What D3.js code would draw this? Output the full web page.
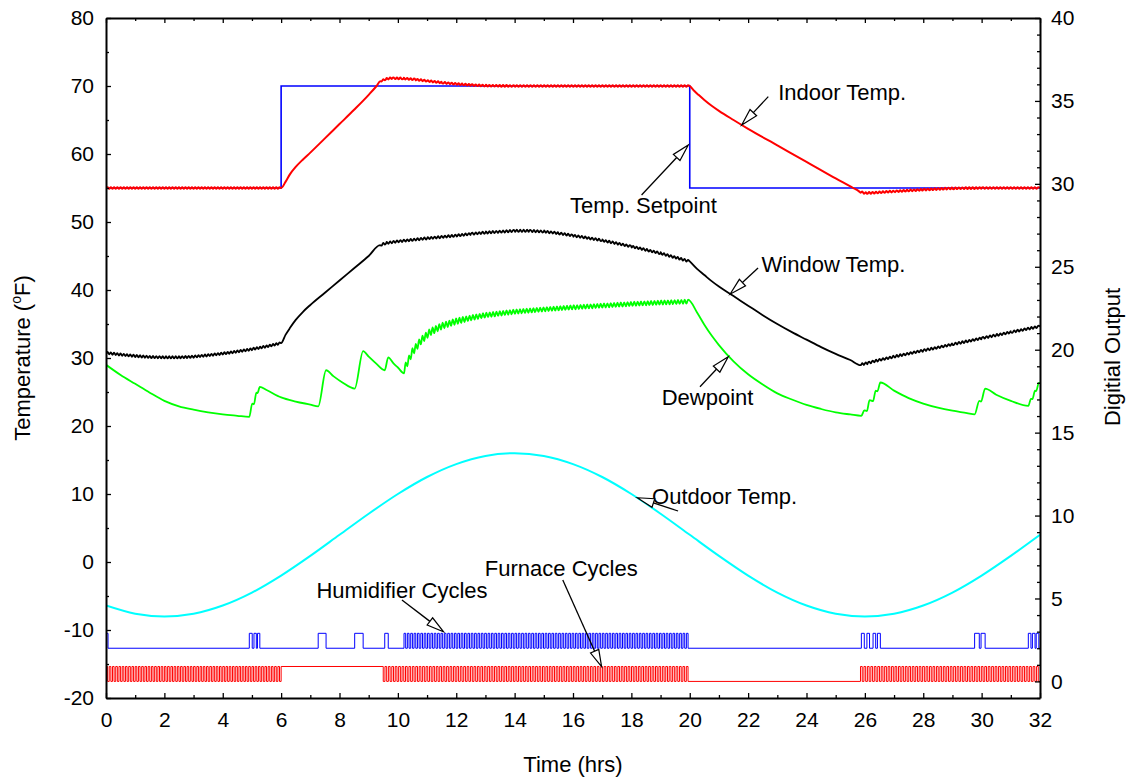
<!DOCTYPE html>
<html>
<head>
<meta charset="utf-8">
<script src="https://cdn.jsdelivr.net/npm/d3@7"></script>
<style>
  html, body { margin: 0; padding: 0; background: #fff; }
  svg text { font-family: "Liberation Sans", Arial, sans-serif; fill: #000; }
</style>
</head>
<body>
<svg id="chart" width="1134" height="780"></svg>
<script>
// ---------------- data (hours, °F / digital level) ----------------
const outdoorHours = [0,1,2,3,4,5,6,7,8,9,10,11,12,13,14,15,16,17,18,19,20,21,22,23,24,25,26,27,28,29,30,31,32];
const outdoorTemp  = [-6.4,-7.6,-8,-7.6,-6.4,-4.5,-2,0.9,4,7.1,10,12.5,14.4,15.6,16,15.6,14.4,12.5,10,7.1,4,0.9,-2,-4.5,-6.4,-7.6,-8,-7.6,-6.4,-4.5,-2,0.9,4];

const setpointHours = [0, 6, 20, 32];
const setpointTemp  = [55, 70, 55, 55];

const indoorHours = [0,6,6.15,6.3,6.5,6.75,7,7.5,8,8.5,9,9.27,9.4,9.6,9.8,10.2,10.6,11,11.5,12,12.5,13,14,20,20.15,20.3,20.5,20.75,21,21.5,22,23,24,25,25.6,25.8,26,26.3,27,28,29,30,32];
const indoorTemp  = [55,55,55.9,57,58.1,59.2,60.2,62.3,64.4,66.5,68.7,70,70.7,71.05,71.15,71.1,70.95,70.75,70.5,70.3,70.15,70.05,70,70,69.3,68.7,67.95,67.1,66.35,65,63.7,61.27,58.85,56.4,55,54.5,54.25,54.3,54.5,54.75,54.95,55,55];

const windowHours = [0,0.5,1,1.5,2,2.5,3,3.5,4,4.5,5,5.5,6,6.15,6.3,6.5,6.75,7,7.5,8,8.5,9,9.39,9.6,10,11,12,12.5,13,14,14.5,15,15.5,16,17,18,19,20,20.25,20.5,20.75,21,21.5,22,22.5,23,23.5,24,24.5,25,25.5,25.88,26.1,26.3,27,28,29,30,31,32];
const windowTemp  = [30.75,30.5,30.3,30.15,30.1,30.1,30.2,30.4,30.65,30.95,31.3,31.7,32.2,33.4,34.4,35.6,36.8,37.8,39.6,41.4,43.2,45,46.6,46.9,47.15,47.6,48,48.25,48.45,48.7,48.7,48.6,48.35,48,47.3,46.4,45.4,44.2,43.1,42.2,41.3,40.5,39.1,37.7,36.3,35,33.8,32.7,31.6,30.6,29.7,29.05,29.25,29.5,30.2,31.1,32,32.9,33.8,34.65];

// dewpoint outside the continuous humidifier run
const dewHours = [0,0.5,1,1.5,2,2.5,3,3.5,4,4.5,4.91,5.01,5.07,5.15,5.19,5.27,5.5,6,6.5,7,7.27,7.54,7.8,8.1,8.52,8.81,9,9.25,9.55,9.67,9.85,10,
                  20.25,20.5,20.75,21,21.5,22,22.5,23,23.5,24,24.5,25,25.5,25.88,25.98,26.07,26.16,26.28,26.37,26.43,26.53,27,27.5,28,28.5,29,29.5,29.76,29.92,29.98,30.12,30.5,31,31.6,31.69,31.74,31.83,31.87,31.96,32];
const dewTemp  = [29,27.5,26.2,24.9,23.7,22.9,22.4,22,21.7,21.5,21.35,23.3,23.2,24.9,24.85,25.75,25.3,24.2,23.6,23.15,22.9,28.2,27.3,26.4,25.5,31,30.2,29.2,28.2,30.1,29.2,28.6,
                  36.7,34.9,33.3,31.9,29.5,27.6,26.1,24.8,23.9,23.1,22.5,22,21.7,21.5,22.3,22.2,23.8,23.65,25.2,25.1,26.4,25.2,24.1,23.3,22.7,22.25,21.9,21.7,23.7,23.6,25.5,24.6,23.7,22.95,24,23.95,25.2,25.15,26.35,26.3];
// dewpoint sawtooth band during the continuous humidifier run
const dewBandHours = [10.21,10.5,10.8,11.1,11.5,12,12.5,13,14,15,16,17,18,19,20];
const dewBandMid   = [28.3,30.9,32.6,33.8,34.7,35.4,35.9,36.3,36.8,37.15,37.45,37.7,37.95,38.15,38.3];
const dewBandAmp   = [0.55,0.55,0.52,0.5,0.46,0.42,0.38,0.35,0.32,0.3,0.3,0.3,0.3,0.3,0.3];

// furnace: runs of on/off cycling (start, end, number of cycles, on fraction)
const furnaceStart  = [0, 6, 9.44, 25.85];
const furnaceEnd    = [6, 9.44, 20, 32];
const furnaceCycles = [54, 1, 90, 52];
const furnaceDuty   = [0.5, 1, 0.5, 0.5];
const furnaceLevels = [0, 0.9];

// humidifier: single pulses plus one continuous cycling run
const humidOn  = [0, 4.91, 5.07, 5.19, 7.27, 8.52, 9.55, 25.88, 26.07, 26.28, 26.43, 29.76, 29.98, 31.6, 31.74, 31.87];
const humidOff = [0.07, 5.01, 5.15, 5.27, 7.54, 8.81, 9.67, 25.98, 26.16, 26.37, 26.53, 29.92, 30.12, 31.69, 31.83, 31.96];
const humidRunStart  = [10.21];
const humidRunEnd    = [20];
const humidRunCycles = [85];
const humidRunDuty   = [0.5];
const humidLevels = [2, 2.9];

// ripple amplitude (°F) caused by furnace cycling
const indoorRipple = 0.12;
const windowRipple = 0.16;

// axis ticks
const xTicks = d3.range(0, 33, 2);
const xMinor = d3.range(1, 32, 2);
const yTicks = [-20,-10,0,10,20,30,40,50,60,70,80];
const yMinor = [-15,-5,5,15,25,35,45,55,65,75];
const rTicks = [0,5,10,15,20,25,30,35,40];
const rMinor = d3.range(-1, 40).filter(v => v % 5 !== 0);

// annotations: label anchor, arrow start, arrow tip (hours, °F)
const notes = [
  { text: "Indoor Temp.",      tx: 23.03, ty: 67.94,  sx: 22.69, sy: 68.43,  ex: 21.78, ey: 64.26 },
  { text: "Temp. Setpoint",    tx: 15.90, ty: 51.28,  sx: 18.35, sy: 53.97,  ex: 19.95, ey: 61.32 },
  { text: "Window Temp.",      tx: 22.46, ty: 42.69,  sx: 22.34, sy: 43.24,  ex: 21.38, ey: 39.38 },
  { text: "Dewpoint",          tx: 19.04, ty: 23.09,  sx: 20.35, sy: 25.78,  ex: 21.32, ey: 30.19 },
  { text: "Outdoor Temp.",     tx: 18.71, ty: 8.53,   sx: 19.60, sy: 7.50,   ex: 18.20, ey: 9.45 },
  { text: "Humidifier Cycles", tx: 7.21,  ty: -5.25,  sx: 10.14, sy: -5.59,  ex: 11.56, ey: -10.25 },
  { text: "Furnace Cycles",    tx: 12.98, ty: -2.06,  sx: 15.65, sy: -2.65,  ex: 16.98, ey: -15.40 }
];

// ---------------- layout ----------------
const svg = d3.select("#chart");
const x  = d3.scaleLinear().domain([0, 32]).range([106, 1040]);
const y  = d3.scaleLinear().domain([-20, 80]).range([698, 18]);
const yR = d3.scaleLinear().domain([-1, 40]).range([698, 18]);

svg.append("defs").append("clipPath").attr("id", "plot")
  .append("rect").attr("x", 106).attr("y", 18).attr("width", 934).attr("height", 680);

// ---------------- helpers ----------------
function runPulses(starts, ends, cycles, duty) {
  const out = [];
  starts.forEach((s, i) => {
    const p = (ends[i] - s) / cycles[i];
    for (let k = 0; k < cycles[i]; k++) out.push([s + k * p, s + k * p + duty[i] * p]);
  });
  return out;
}
function mergeSort(pts) {
  pts.sort((a, b) => a[0] - b[0] || (b[2] || 0) - (a[2] || 0));
  const out = [];
  pts.forEach(p => {
    const last = out[out.length - 1];
    if (last && Math.abs(last[0] - p[0]) < 1e-6) return;
    out.push(p);
  });
  return out;
}
// base curve with a small sawtooth wherever the driving device cycles
function rippled(hours, temps, pulses, amp) {
  const base = d3.scaleLinear().domain(hours).range(temps);
  const pts = hours.map((h, i) => [h, temps[i], 0]);
  pulses.forEach(([a, b]) => {
    if (b - a > 1) return;
    pts.push([a, base(a) - amp, 1]);
    pts.push([b, base(b) + amp, 1]);
  });
  return mergeSort(pts);
}
function stepPoints(pulses, levels) {
  const pts = [];
  const [lo, hi] = levels;
  let prevOff = null;
  pulses.forEach(([a, b]) => {
    if (prevOff !== null && Math.abs(prevOff - a) < 1e-6) pts.pop();
    else pts.push([a, hi]);
    pts.push([b, lo]);
    prevOff = b;
  });
  if (pulses[0][0] > 0) pts.unshift([0, lo]);
  const last = pts[pts.length - 1];
  if (last[0] < 32) pts.push([32, last[1]]);
  return pts;
}

// ---------------- derived marks ----------------
const furnacePulses = runPulses(furnaceStart, furnaceEnd, furnaceCycles, furnaceDuty);
const humidPulses = humidOn.map((a, i) => [a, humidOff[i]])
  .concat(runPulses(humidRunStart, humidRunEnd, humidRunCycles, humidRunDuty))
  .sort((a, b) => a[0] - b[0]);

const indoorPts = rippled(indoorHours, indoorTemp, furnacePulses, indoorRipple);
const windowPts = rippled(windowHours, windowTemp, furnacePulses, windowRipple);

const bandMid = d3.scaleLinear().domain(dewBandHours).range(dewBandMid);
const bandAmp = d3.scaleLinear().domain(dewBandHours).range(dewBandAmp);
const dewPts = dewHours.map((h, i) => [h, dewTemp[i]]);
humidPulses.filter(([a, b]) => a >= humidRunStart[0] - 1e-6 && b <= humidRunEnd[0] + 1e-6)
  .forEach(([a, b]) => {
    dewPts.push([a, bandMid(a) - bandAmp(a)]);
    dewPts.push([b, bandMid(b) + bandAmp(b)]);
  });
const dewSorted = mergeSort(dewPts);

const outdoorPts  = outdoorHours.map((h, i) => [h, outdoorTemp[i]]);
const setpointPts = setpointHours.map((h, i) => [h, setpointTemp[i]]);

// ---------------- drawing ----------------
const plot = svg.append("g").attr("clip-path", "url(#plot)");
const lineT = d3.line().x(d => x(d[0])).y(d => y(d[1])).curve(d3.curveMonotoneX);
const stepT = d3.line().x(d => x(d[0])).y(d => y(d[1])).curve(d3.curveStepAfter);
const stepR = d3.line().x(d => x(d[0])).y(d => yR(d[1])).curve(d3.curveStepAfter);

function draw(gen, data, color, width) {
  plot.append("path").datum(data).attr("d", gen)
    .attr("fill", "none").attr("stroke", color).attr("stroke-width", width)
    .attr("stroke-linejoin", "miter").attr("stroke-linecap", "butt");
}

draw(lineT, outdoorPts, "#00ffff", 2);
draw(stepR, stepPoints(furnacePulses, furnaceLevels), "#ff0000", 1);
draw(stepR, stepPoints(humidPulses, humidLevels), "#0000ff", 1);
draw(lineT, dewSorted, "#00ff00", 1.8);
draw(lineT, windowPts, "#000000", 1.8);
draw(stepT, setpointPts, "#0000ff", 1.6);
draw(lineT, indoorPts, "#ff0000", 2);

// ---------------- axes ----------------
const FS = "21px";
const plain = d => String(d);
const blank = () => "";
function styleAxis(g, showDomain) {
  g.attr("font-family", null).attr("font-size", null);
  g.selectAll("text").attr("font-size", FS).attr("fill", "#000");
  g.selectAll(".tick line").attr("stroke", "#000").attr("stroke-width", 1.3);
  if (showDomain) g.select(".domain").attr("stroke", "#000").attr("stroke-width", 2);
  else g.select(".domain").remove();
}
function addAxis(axis, tx, ty, showDomain) {
  const g = svg.append("g").attr("transform", `translate(${tx},${ty})`).call(axis);
  styleAxis(g, showDomain);
  return g;
}

addAxis(d3.axisBottom(x).tickValues(xMinor).tickFormat(blank).tickSize(-3).tickSizeOuter(0), 0, 698, false);
addAxis(d3.axisBottom(x).tickValues(xTicks).tickFormat(plain).tickSize(-5).tickSizeOuter(0).tickPadding(14), 0, 698, true);
addAxis(d3.axisTop(x).tickValues(xMinor).tickFormat(blank).tickSize(-3).tickSizeOuter(0), 0, 18, false);
addAxis(d3.axisTop(x).tickValues(xTicks).tickFormat(blank).tickSize(-5).tickSizeOuter(0), 0, 18, true);
addAxis(d3.axisLeft(y).tickValues(yMinor).tickFormat(blank).tickSize(-3).tickSizeOuter(0), 106, 0, false);
addAxis(d3.axisLeft(y).tickValues(yTicks).tickFormat(plain).tickSize(-5).tickSizeOuter(0).tickPadding(12), 106, 0, true);
addAxis(d3.axisRight(yR).tickValues(rMinor).tickFormat(blank).tickSize(-3).tickSizeOuter(0), 1040, 0, false);
addAxis(d3.axisRight(yR).tickValues(rTicks).tickFormat(plain).tickSize(-5).tickSizeOuter(0).tickPadding(11), 1040, 0, true);

// ---------------- titles ----------------
svg.append("text").attr("x", 573).attr("y", 772).attr("text-anchor", "middle")
  .attr("font-size", "22px").text("Time (hrs)");

const yl = svg.append("text").attr("transform", "translate(30,358) rotate(-90)")
  .attr("text-anchor", "middle").attr("font-size", "22px");
yl.append("tspan").text("Temperature (");
yl.append("tspan").attr("font-size", "14px").attr("dy", "-9").text("o");
yl.append("tspan").attr("dy", "9").text("F)");

svg.append("text").attr("transform", "translate(1120,357) rotate(-90)")
  .attr("text-anchor", "middle").attr("font-size", "22px").text("Digitial Output");

// ---------------- annotations ----------------
const ann = svg.append("g");
notes.forEach(n => {
  ann.append("text").attr("x", x(n.tx)).attr("y", y(n.ty)).attr("font-size", "22px").text(n.text);
  const x0 = x(n.sx), y0 = y(n.sy), x1 = x(n.ex), y1 = y(n.ey);
  const len = Math.hypot(x1 - x0, y1 - y0), ux = (x1 - x0) / len, uy = (y1 - y0) / len;
  const L = 17, w = 4.5, bx = x1 - ux * L, by = y1 - uy * L;
  ann.append("line").attr("x1", x0).attr("y1", y0).attr("x2", bx).attr("y2", by)
    .attr("stroke", "#000").attr("stroke-width", 1.3);
  ann.append("path")
    .attr("d", `M${x1},${y1}L${bx - uy * w},${by + ux * w}L${bx + uy * w},${by - ux * w}Z`)
    .attr("fill", "#fff").attr("stroke", "#000").attr("stroke-width", 1.2);
});
</script>
</body>
</html>
